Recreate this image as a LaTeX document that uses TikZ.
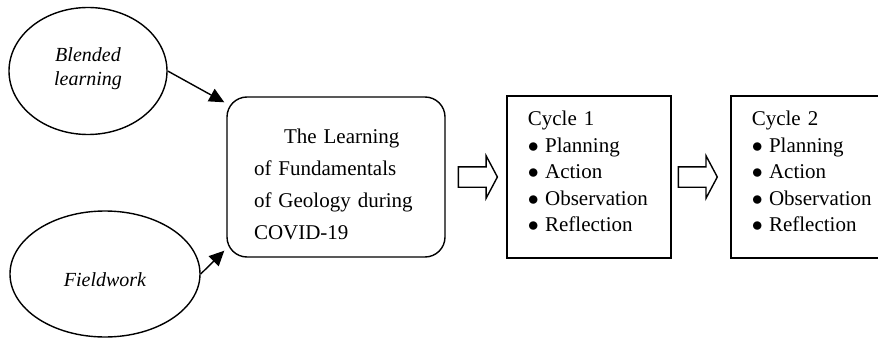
\documentclass[tikz,border=0pt]{standalone}
\usepackage{fontspec}
\setmainfont{Liberation Serif}
\usetikzlibrary{positioning,shapes.geometric,shapes.arrows,arrows.meta}
\tikzstyle{arrow} = [line width=0.7pt,-{Triangle[length=7.5pt,width=7pt]}]

\begin{document}
\begin{tikzpicture}[x=0.5pt,y=0.5pt,font=\fontsize{10.5}{13.2}\selectfont]
	\tikzstyle{oval} = [ellipse, draw=black, line width=0.7pt, font=\itshape, align=center];
	\tikzstyle{box} = [rectangle, draw=black, line width=0.7pt, align=left, inner xsep=10.5pt, text width=61pt, minimum height=81pt];
	\tikzstyle{hollow} = [single arrow, draw=black, line width=0.7pt, inner sep=4.75pt, minimum height=19.5pt, single arrow head extend=5.5pt, single arrow tip angle=124];
	\useasboundingbox (0,0) rectangle (878,338);
	\node (blend) [oval, minimum width=79pt, minimum height=63.5pt] at (88,267) {Blended\\learning\rule[-4pt]{0pt}{0pt}};
	\node (field) [oval, minimum width=95pt, minimum height=63pt] at (105,64) {\rule{0pt}{12.3pt}Fieldwork};
	\node (learn) [box, rounded corners=10pt, inner xsep=13.5pt, text width=82pt, minimum height=80pt, font=\fontsize{10.5}{16}\selectfont] at (336,161) {\rule{0pt}{15pt}\hspace*{15pt}The Learning\\of Fundamentals\\of Geology during\\COVID-19};
	\node (hol1) [hollow, right=6pt of learn] {};
	\node (cyc1) [box, right=4pt of hol1] {Cycle 1\\$\bullet$\hspace{0.3em}Planning\\$\bullet$\hspace{0.3em}Action\\$\bullet$\hspace{0.3em}Observation\\$\bullet$\hspace{0.3em}Reflection\rule[-5.5pt]{0pt}{0pt}};
	\node (hol2) [hollow, right=3pt of cyc1] {};
	\node (cyc2) [box, right=6pt of hol2] {Cycle 2\\$\bullet$\hspace{0.3em}Planning\\$\bullet$\hspace{0.3em}Action\\$\bullet$\hspace{0.3em}Observation\\$\bullet$\hspace{0.3em}Reflection\rule[-5.5pt]{0pt}{0pt}};
	\draw [arrow] (blend.east) -- ([xshift=-1pt,yshift=-3pt]learn.north west);
	\draw [arrow] (field.east) -- ([xshift=-1pt,yshift=3.5pt]learn.south west);
\end{tikzpicture}
\end{document}
